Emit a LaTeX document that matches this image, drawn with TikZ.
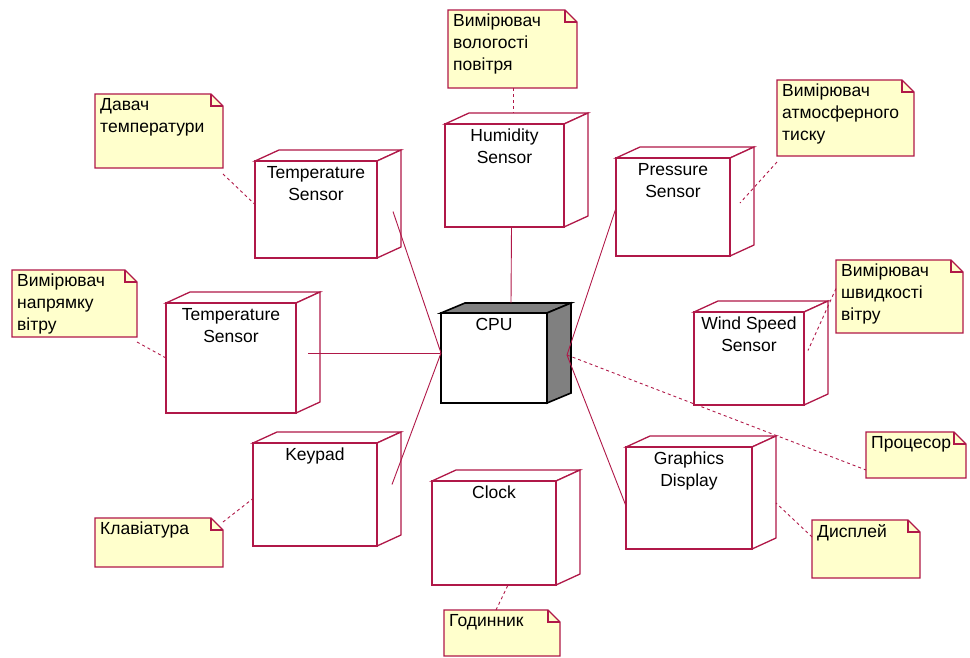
\documentclass[tikz,border=0pt]{standalone}
\usepackage{fontspec}
\setmainfont{Liberation Sans}
\definecolor{rose}{RGB}{176,24,72}
\definecolor{notefill}{RGB}{255,255,204}
\definecolor{cpuside}{RGB}{128,128,128}
\tikzset{
  boxface/.style={rectangle, inner sep=0pt, outer sep=0pt},
  frame/.style={draw=rose, line width=1.3pt, line join=miter},
  cpuframe/.style={draw=black, line width=1.6pt, line join=miter},
  nodetext/.style={font=\fontsize{17.5}{22}\selectfont, align=center, inner sep=0pt, anchor=north},
  notetext/.style={font=\fontsize{17.5}{22}\selectfont, align=left, inner sep=0pt, anchor=north west},
  notebody/.style={draw=rose, line width=1.1pt, fill=notefill},
  link/.style={draw=rose, line width=0.9pt},
  anchorlink/.style={draw=rose, line width=0.9pt, dash pattern=on 3pt off 3pt},
}
% 3D deployment node: name, x1, y1, x2, y2, label
\newcommand\depnode[6]{%
  \node[boxface, minimum width={#4-#2}, minimum height={#5-#3}, anchor=north west] (#1) at (#2,#3) {};
  \draw[frame, fill=white] (#1.north west) -- ++(24,-11) -- ([shift={(24,-11)}]#1.north east) -- (#1.north east) -- cycle;
  \draw[frame, fill=white] (#1.north east) -- ++(24,-11) -- ([shift={(24,-11)}]#1.south east) -- (#1.south east) -- cycle;
  \draw[frame, fill=white] (#1.north west) rectangle (#1.south east);
  \node[nodetext] (#1-t) at ([yshift=-5pt]#1.north) {#6};
}
% note with folded corner: name, x1, y1, x2, y2, text
\newcommand\notebox[6]{%
  \node[boxface, minimum width={#4-#2}, minimum height={#5-#3}, anchor=north west] (#1) at (#2,#3) {};
  \draw[notebody] (#1.north west) -- ([xshift=-12pt]#1.north east) -- ([yshift=-12pt]#1.north east) -- (#1.south east) -- (#1.south west) -- cycle;
  \draw[draw=rose, line width=1.1pt] ([xshift=-12pt]#1.north east) |- ([yshift=-12pt]#1.north east);
  \node[notetext] (#1-t) at ([shift={(5,4)}]#1.north west) {#6};
}
\begin{document}
\begin{tikzpicture}[x=1pt, y=-1pt]
\useasboundingbox[fill=white] (0,0) rectangle (970,657);

% processor
\node[boxface, minimum width=106pt, minimum height=90pt, anchor=north west] (cpu) at (441,313) {};
\draw[cpuframe, fill=cpuside] (cpu.north west) -- ++(24,-10) -- ([shift={(24,-10)}]cpu.north east) -- (cpu.north east) -- cycle;
\draw[cpuframe, fill=cpuside] (cpu.north east) -- ++(24,-10) -- ([shift={(24,-10)}]cpu.south east) -- (cpu.south east) -- cycle;
\draw[cpuframe, fill=white] (cpu.north west) rectangle (cpu.south east);
\node[nodetext] (cpu-t) at ([yshift=-5pt]cpu.north) {CPU};

% devices
\depnode{temp}{255}{161}{377}{258}{Temperature\\Sensor}
\depnode{humid}{445}{124}{564}{227}{Humidity\\Sensor}
\depnode{press}{616}{158}{730}{256}{Pressure\\Sensor}
\depnode{tempb}{166}{303}{296}{413}{Temperature\\Sensor}
\depnode{wind}{694}{312}{804}{405}{Wind Speed\\Sensor}
\depnode{keypad}{253}{443}{377}{546}{Keypad}
\depnode{display}{626}{447}{752}{549}{Graphics\\Display}
\depnode{clock}{432}{481}{556}{585}{Clock}

% notes
\notebox{nhumid}{448}{10}{577}{88}{Вимірювач\\вологості\\повітря}
\notebox{ntemp}{95}{94}{223}{168}{Давач\\температури}
\notebox{npress}{777}{80}{914}{156}{Вимірювач\\атмосферного\\тиску}
\notebox{ndir}{12}{270}{137}{337}{Вимірювач\\напрямку\\вітру}
\notebox{nwind}{836}{260}{963}{333}{Вимірювач\\швидкості\\вітру}
\notebox{nproc}{866}{432}{966}{478}{Процесор}
\notebox{ndisp}{812}{520}{920}{578}{Дисплей}
\notebox{nkey}{95}{518}{223}{567}{Клавіатура}
\notebox{nclock}{444}{610}{560}{656}{Годинник}

% attachment points
\coordinate (cpuL) at ([yshift=5pt]cpu.west);
\coordinate (cpuR) at ([shift={(20,-3)}]cpu.east);
\coordinate (cpuT) at ([shift={(17,-10)}]cpu.north);
\coordinate (humidB) at ([xshift=7pt]humid.south);
\coordinate (tempC) at ([shift={(16,2)}]temp.east);
\coordinate (tempbC) at ([xshift=12pt]tempb.east);
\coordinate (keyC) at ([shift={(15,-10)}]keypad.east);
\coordinate (pressC) at ([yshift=-1pt]press.west);
\coordinate (dispC) at ([yshift=-8pt]display.west);

% connections between devices and the processor
\draw[link] (humidB) -- (cpuT);
\draw[link] (tempC) -- (cpuL);
\draw[link] (tempbC |- cpuL) -- (cpuL);
\draw[link] (keyC) -- (cpuL);
\draw[link] (pressC) -- (cpuR);
\draw[link] (dispC) -- (cpuR);

% note anchors
\draw[anchorlink] (cpuR) -- ([yshift=-15pt]nproc.west);
\draw[anchorlink] ([xshift=1pt]nhumid.south) -- ([xshift=9pt]humid.north |- 0,113);
\draw[anchorlink] ([yshift=-6pt]ntemp.south east) -- ([yshift=5pt]temp.west);
\draw[anchorlink] ([yshift=-6pt]npress.south west) -- ([shift={(10,-4)}]press.east);
\draw[anchorlink] ([yshift=-5pt]ndir.south east) -- (tempb.west);
\draw[anchorlink] ([yshift=8pt]nwind.west) -- ([shift={(4,-8)}]wind.east);
\draw[anchorlink] ([yshift=-17pt]ndisp.north west) -- ([shift={(24,5)}]display.east);
\draw[anchorlink] ([yshift=-4pt]nkey.north east) -- ([yshift=-4pt]keypad.west);
\draw[anchorlink] ([xshift=-6pt]nclock.north) -- ([xshift=14pt]clock.south);
\end{tikzpicture}
\end{document}
